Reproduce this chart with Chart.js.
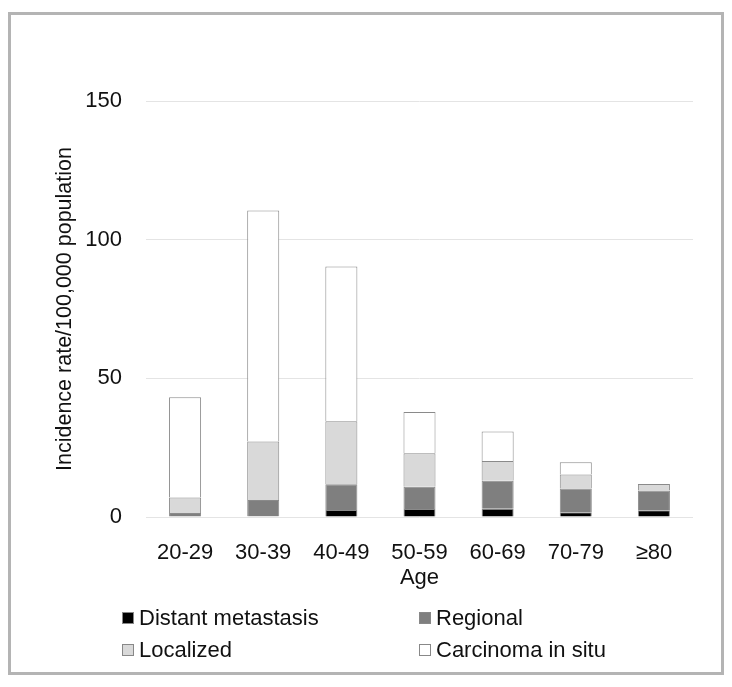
<!DOCTYPE html>
<html>
<head>
<meta charset="utf-8">
<script src="https://cdn.jsdelivr.net/npm/chart.js@4/dist/chart.umd.min.js"></script>
<style>
  body { margin: 0; background: #fff; font-family: "Liberation Sans", Arial, sans-serif; }
  #frame { position: absolute; left: 8px; top: 12px; width: 710px; height: 657px; border: 3px solid #b4b4b4; }
  #wrap { position: absolute; left: 11px; top: 15px; width: 710px; height: 576px; }
  #legend { position: absolute; left: 0; top: 0; width: 732px; height: 687px; pointer-events: none; }
  .item { position: absolute; display: flex; align-items: center; font-size: 22px; color: #111; line-height: 26px; }
  .box { width: 10px; height: 10px; border: 1px solid #888; margin-right: 5px; }
</style>
</head>
<body>
<div id="frame"></div>
<div id="wrap"><canvas id="chart"></canvas></div>
<div id="legend"></div>
<script>
// values (per 100,000)
const ages = ['20-29', '30-39', '40-49', '50-59', '60-69', '70-79', '≥80'];
const distant = [0.2, 0.3, 2.5, 2.9, 3.0, 1.7, 2.4];
const regional = [1.2, 5.8, 9.3, 8.0, 10.1, 8.6, 7.2];
const localized = [5.6, 21.1, 22.7, 12.1, 7.1, 5.0, 2.3];
const inSitu = [36.2, 83.3, 55.8, 14.9, 10.6, 4.4, 0];
const yTicks = [0, 50, 100, 150];

const font = { family: 'Liberation Sans', size: 22 };

function series (label, data, color) {
  return {
    label: label,
    data: data,
    backgroundColor: color,
    borderColor: '#8a8a8a',
    borderWidth: 1,
    categoryPercentage: 1,
    barPercentage: 0.41
  }
}

const chart = new Chart(document.getElementById('chart'), {
  type: 'bar',
  data: {
    labels: ages,
    datasets: [
      series('Distant metastasis', distant, '#000000'),
      series('Regional', regional, '#7f7f7f'),
      series('Localized', localized, '#d9d9d9'),
      series('Carcinoma in situ', inSitu, '#ffffff')
    ]
  },
  options: {
    responsive: true,
    maintainAspectRatio: false,
    animation: false,
    layout: { padding: { left: 30, right: 28, top: 86, bottom: 0 } },
    plugins: { legend: { display: false }, tooltip: { enabled: false } },
    scales: {
      x: {
        stacked: true,
        grid: { display: false },
        border: { display: false },
        ticks: { padding: 15, color: '#111', font: font },
        title: { display: true, text: 'Age', color: '#111', padding: 0, font: font },
        afterFit: function (scale) { scale.height = 74 }
      },
      y: {
        stacked: true,
        min: 0,
        max: 150,
        afterBuildTicks: function (scale) { scale.ticks = yTicks.map(v => ({ value: v })) },
        grid: { color: '#e4e4e4', drawTicks: false },
        border: { display: false },
        ticks: { padding: 24, color: '#111', font: font },
        title: {
          display: true,
          text: 'Incidence rate/100,000 population',
          color: '#111',
          padding: { top: 11, bottom: 0 },
          font: { family: 'Liberation Sans', size: 21.5 }
        },
        afterFit: function (scale) { scale.width = 105 }
      }
    }
  }
})

// two-column legend under the chart, built from the datasets
const legendPos = [[122, 618], [419, 618], [122, 650], [419, 650]];
chart.data.datasets.forEach(function (ds, i) {
  const el = document.createElement('div');
  el.className = 'item';
  el.style.left = legendPos[i][0] + 'px';
  el.style.top = (legendPos[i][1] - 13) + 'px';
  el.innerHTML = '<span class="box" style="background:' + ds.backgroundColor + '"></span>' + ds.label;
  document.getElementById('legend').appendChild(el);
});
</script>
</body>
</html>
